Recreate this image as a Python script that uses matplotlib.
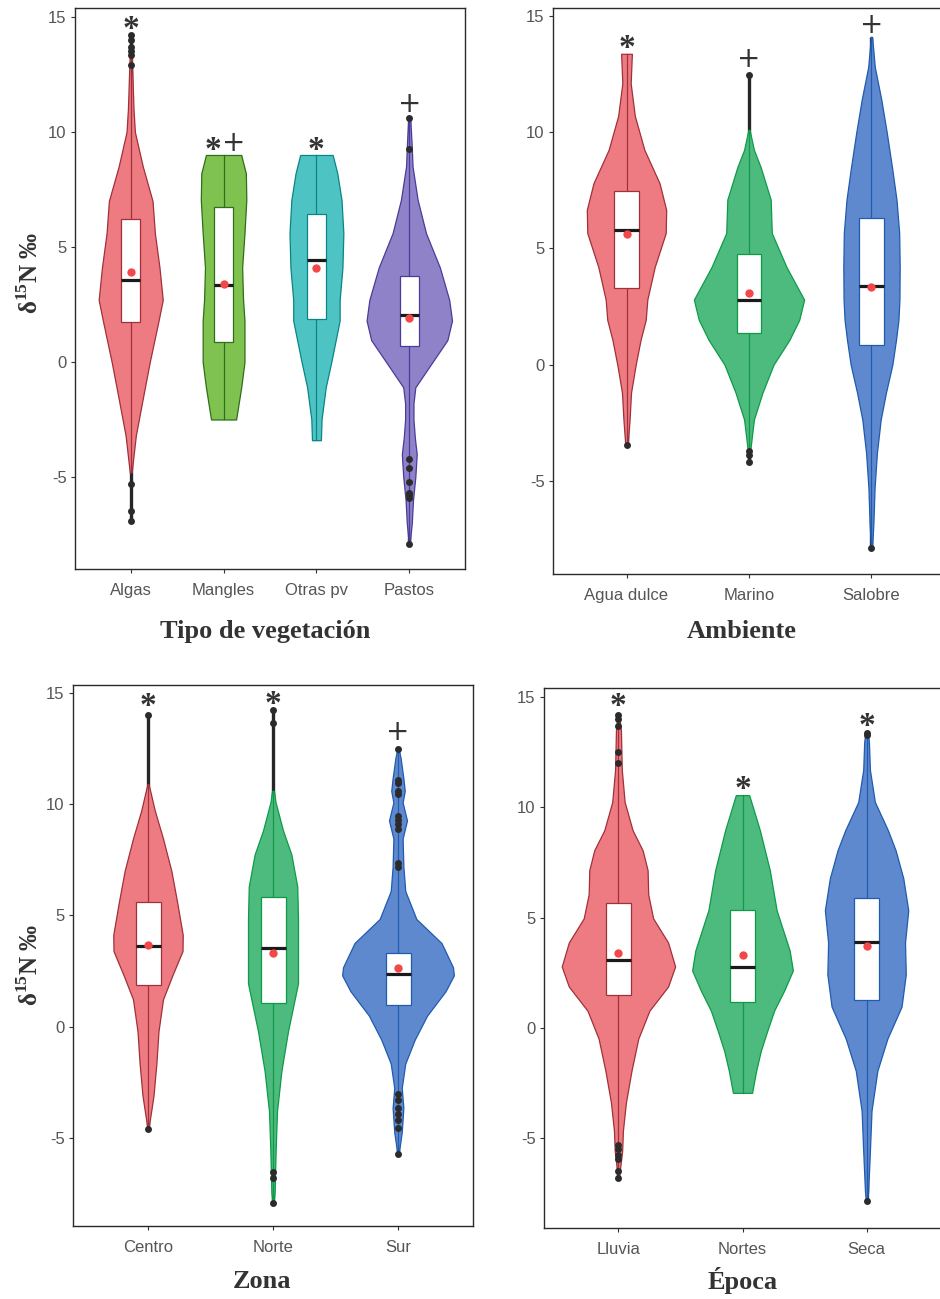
import numpy as np
import matplotlib
matplotlib.use('Agg')
import matplotlib.pyplot as plt

plt.rcParams['font.family'] = ['Liberation Sans', 'DejaVu Sans']
plt.rcParams['mathtext.fontset'] = 'custom'
plt.rcParams['mathtext.rm'] = 'Liberation Serif:bold'

# ---------------- Tipo de vegetación ----------------
veg_cats = ['Algas', 'Mangles', 'Otras pv', 'Pastos']
veg_prof_y = [
    [13.3, 12.5, 11.0, 10.0, 8.5, 7.0, 5.6, 4.1, 2.7, 1.8, 0.0, -1.8, -3.2, -4.8],
    [9.0, 8.2, 7.05, 5.6, 4.1, 2.7, 1.8, 0.95, 0.0, -1.1, -2.5],
    [9.0, 8.2, 7.05, 5.6, 4.1, 2.7, 1.8, 0.0, -1.1, -2.5, -3.4],
    [10.6, 9.5, 8.5, 7.05, 5.6, 4.1, 2.7, 1.8, 0.95, 0.0, -1.1, -1.8, -2.5, -3.3, -4.0, -5.0, -6.0, -7.0, -7.9],
]
veg_prof_w = [
    [0.01, 0.018, 0.03, 0.045, 0.13, 0.235, 0.26, 0.31, 0.345, 0.30, 0.205, 0.12, 0.055, 0.01],
    [0.19, 0.24, 0.245, 0.225, 0.20, 0.21, 0.225, 0.225, 0.225, 0.19, 0.135],
    [0.175, 0.225, 0.27, 0.29, 0.28, 0.25, 0.25, 0.16, 0.10, 0.055, 0.048],
    [0.01, 0.025, 0.035, 0.09, 0.18, 0.33, 0.43, 0.46, 0.41, 0.25, 0.065, 0.045, 0.045, 0.06, 0.08, 0.065, 0.04, 0.027, 0.005],
]
veg_q1 = [1.75, 0.87, 1.87, 0.7]
veg_med = [3.57, 3.35, 4.43, 2.05]
veg_q3 = [6.2, 6.75, 6.45, 3.74]
veg_mean = [3.9, 3.38, 4.1, 1.9]
veg_lo = [-6.9, -2.5, -3.4, -7.9]
veg_hi = [14.2, 9.0, 9.0, 10.6]
veg_out = [
    [14.2, 14.0, 13.7, 13.5, 13.35, 12.9, -5.3, -6.5, -6.9],
    [],
    [],
    [10.6, 9.25, -4.2, -4.6, -5.2, -5.7, -5.8, -5.9, -7.9],
]
veg_marks = ['*', '*+', '*', '+']
veg_mark_y = [14.75, 9.5, 9.5, 11.2]

# ---------------- Ambiente ----------------
amb_cats = ['Agua dulce', 'Marino', 'Salobre']
amb_prof_y = [
    [13.37, 12.1, 10.7, 9.24, 7.8, 6.66, 5.66, 4.2, 2.8, 1.93, 1.07, 0.0, -1.2, -2.36, -3.44],
    [10.1, 9.24, 8.5, 7.8, 7.1, 5.66, 4.2, 2.8, 1.93, 1.07, 0.0, -1.2, -2.36, -3.6],
    [14.1, 12.8, 11.4, 9.97, 8.5, 7.1, 5.66, 4.2, 2.8, 1.93, 1.07, 0.0, -1.2, -2.36, -3.8, -5.3, -6.75, -7.87],
]
amb_prof_w = [
    [0.044, 0.034, 0.068, 0.146, 0.27, 0.324, 0.32, 0.23, 0.17, 0.157, 0.115, 0.075, 0.037, 0.025, 0.01],
    [0.005, 0.04, 0.095, 0.136, 0.177, 0.186, 0.306, 0.45, 0.41, 0.33, 0.2, 0.11, 0.04, 0.012],
    [0.005, 0.027, 0.08, 0.125, 0.167, 0.204, 0.226, 0.23, 0.228, 0.22, 0.2, 0.17, 0.118, 0.075, 0.044, 0.025, 0.016, 0.005],
]
amb_q1 = [3.3, 1.38, 0.86]
amb_med = [5.8, 2.8, 3.4]
amb_q3 = [7.45, 4.77, 6.3]
amb_mean = [5.6, 3.1, 3.35]
amb_lo = [-3.45, -4.2, -7.9]
amb_hi = [13.37, 12.47, 14.1]
amb_out = [[-3.45], [12.47, -3.7, -3.9, -4.2], [-7.9]]
amb_marks = ['*', '+', '+']
amb_mark_y = [13.9, 13.15, 14.6]

# ---------------- Zona ----------------
zona_cats = ['Centro', 'Norte', 'Sur']
zona_prof_y = [
    [10.9, 9.72, 8.46, 7.0, 5.57, 4.12, 3.4, 2.31, 1.23, -0.2, -1.66, -3.1, -4.55],
    [10.6, 10.1, 8.82, 7.74, 6.3, 4.84, 3.4, 1.95, 0.87, -0.2, -2.0, -3.8, -5.6, -7.45, -7.9],
    [12.5, 12.07, 11.17, 10.6, 10.08, 9.27, 8.46, 7.2, 6.1, 4.84, 3.76, 2.67, 2.31, 1.59, 0.5, -0.58, -1.66, -2.75, -3.65, -4.74, -5.73],
]
zona_prof_w = [
    [0.005, 0.054, 0.12, 0.187, 0.234, 0.278, 0.276, 0.195, 0.12, 0.084, 0.067, 0.044, 0.005],
    [0.008, 0.02, 0.08, 0.147, 0.194, 0.2, 0.2, 0.2, 0.16, 0.12, 0.067, 0.032, 0.021, 0.013, 0.005],
    [0.005, 0.021, 0.043, 0.054, 0.037, 0.072, 0.037, 0.043, 0.058, 0.147, 0.348, 0.44, 0.447, 0.38, 0.233, 0.134, 0.058, 0.03, 0.043, 0.03, 0.005],
]
zona_q1 = [1.86, 1.05, 0.99]
zona_med = [3.61, 3.54, 2.37]
zona_q3 = [5.6, 5.82, 3.31]
zona_mean = [3.65, 3.29, 2.64]
zona_lo = [-4.6, -7.93, -5.73]
zona_hi = [14.0, 14.24, 12.5]
zona_out = [
    [14.0, -4.6],
    [14.24, 13.66, -6.54, -6.81, -7.93],
    [12.5, 11.1, 10.95, 10.6, 10.45, 9.45, 9.3, 9.1, 8.9, 7.35, 7.2,
     -3.02, -3.29, -3.65, -3.92, -4.19, -4.55, -5.73],
]
zona_marks = ['*', '*', '+']
zona_mark_y = [14.7, 14.78, 13.25]

# ---------------- Época ----------------
epoca_cats = ['Lluvia', 'Nortes', 'Seca']
epoca_prof_y = [
    [14.2, 13.5, 11.7, 10.24, 8.96, 8.05, 7.15, 6.05, 4.96, 3.87, 2.78, 1.87, 0.78, -0.49, -1.95, -3.4, -4.67, -5.58, -6.76],
    [10.55, 8.96, 7.15, 5.33, 3.51, 2.6, 1.69, 0.78, -0.13, -1.04, -1.95, -2.95],
    [13.36, 12.96, 11.7, 10.24, 8.96, 8.05, 6.78, 5.33, 3.87, 2.42, 0.96, -0.49, -1.95, -3.76, -5.58, -7.4, -7.85],
]
epoca_prof_w = [
    [0.005, 0.02, 0.027, 0.05, 0.114, 0.195, 0.235, 0.24, 0.28, 0.40, 0.457, 0.40, 0.25, 0.16, 0.105, 0.06, 0.036, 0.03, 0.005],
    [0.054, 0.14, 0.22, 0.275, 0.38, 0.406, 0.336, 0.255, 0.2, 0.148, 0.11, 0.077],
    [0.01, 0.019, 0.027, 0.067, 0.172, 0.234, 0.296, 0.336, 0.31, 0.316, 0.282, 0.168, 0.087, 0.04, 0.027, 0.013, 0.005],
]
epoca_q1 = [1.47, 1.15, 1.24]
epoca_med = [3.09, 2.75, 3.87]
epoca_q3 = [5.64, 5.33, 5.87]
epoca_mean = [3.38, 3.29, 3.69]
epoca_lo = [-6.82, -2.95, -7.85]
epoca_hi = [14.2, 10.55, 13.36]
epoca_out = [
    [14.2, 14.0, 13.7, 12.5, 12.0, -5.31, -5.49, -5.76, -5.95, -6.49, -6.82],
    [],
    [13.36, 13.3, -7.85],
]
epoca_marks = ['*', '*', '*']
epoca_mark_y = [14.87, 11.1, 13.96]

# colours
fill4 = ['#EF7B82', '#80C24F', '#4EC3C3', '#8F82C9']
edge4 = ['#A0303A', '#2F6E1A', '#0A8585', '#4B3B98']
fill3 = ['#EF7B82', '#4DBB7D', '#5E89CF']
edge3 = ['#A0303A', '#0E9A4A', '#1F5BAE']

W, H = 940, 1299
fig = plt.figure(figsize=(W / 100, H / 100), dpi=100)


def add_ax(l, t, r, b):
    return fig.add_axes([l / W, 1 - b / H, (r - l) / W, (b - t) / H])


def draw_mark(ax, c, y, s):
    n = len(s)
    for k, ch in enumerate(s):
        x = c + (k - (n - 1) / 2) * 0.22
        if ch == '*':
            ax.text(x, y - 0.3, ch, ha='center', va='center', fontsize=24,
                    fontweight='bold', family='Liberation Serif',
                    color='#333333', zorder=8)
        else:
            ax.text(x, y, ch, ha='center', va='center', fontsize=20,
                    family='DejaVu Sans', color='#333333', zorder=8)


def panel(ax, cats, py, pw, q1, med, q3, mean, lo, hi, outs, marks, mark_y,
          fills, edges, ylim):
    for i in range(len(cats)):
        c = i + 1
        y = np.array(py[i])
        w = np.array(pw[i])
        ax.plot([c, c], [lo[i], hi[i]], color='#262626', lw=2.4, zorder=1,
                solid_capstyle='butt')
        ax.fill_betweenx(y, c - w, c + w, facecolor=fills[i], edgecolor=edges[i],
                         lw=0.9, zorder=2)
        ax.plot([c, c], [y.min(), y.max()], color=edges[i], lw=0.9, zorder=3)
        ax.add_patch(plt.Rectangle((c - 0.1, q1[i]), 0.2, q3[i] - q1[i],
                                   facecolor='white', edgecolor=edges[i],
                                   lw=0.9, zorder=4))
        ax.plot([c - 0.1, c + 0.1], [med[i], med[i]], color='#1a1a1a', lw=2.3,
                zorder=5, solid_capstyle='butt')
        if outs[i]:
            ax.plot([c] * len(outs[i]), outs[i], 'o', color='#2b2b2b', ms=5,
                    zorder=6, mec='none')
        ax.plot([c], [mean[i]], 'o', color='#F2484A', ms=6, zorder=7, mec='none')
        draw_mark(ax, c, mark_y[i], marks[i])
    ax.set_xlim(0.4, len(cats) + 0.6)
    ax.set_ylim(*ylim)
    ax.set_xticks(range(1, len(cats) + 1))
    ax.set_xticklabels(cats)
    ax.set_yticks([-5, 0, 5, 10, 15])
    ax.set_yticklabels(['-5', '0', '5', '10', '15'])
    ax.tick_params(length=3, width=0.8, color='#333333', labelcolor='#555555',
                   labelsize=12, pad=3)
    ax.tick_params(axis='x', pad=7)
    for s in ax.spines.values():
        s.set_color('#2a2a2a')
        s.set_linewidth(1.0)


ax1 = add_ax(75, 8, 465, 569)
panel(ax1, veg_cats, veg_prof_y, veg_prof_w, veg_q1, veg_med, veg_q3, veg_mean,
      veg_lo, veg_hi, veg_out, veg_marks, veg_mark_y, fill4, edge4, (-9.0, 15.39))

ax2 = add_ax(553, 8, 945, 574)
panel(ax2, amb_cats, amb_prof_y, amb_prof_w, amb_q1, amb_med, amb_q3, amb_mean,
      amb_lo, amb_hi, amb_out, amb_marks, amb_mark_y, fill3, edge3, (-9.0, 15.34))

ax3 = add_ax(73, 685, 473, 1226)
panel(ax3, zona_cats, zona_prof_y, zona_prof_w, zona_q1, zona_med, zona_q3, zona_mean,
      zona_lo, zona_hi, zona_out, zona_marks, zona_mark_y, fill3, edge3, (-8.96, 15.36))

ax4 = add_ax(544, 688, 941, 1228)
panel(ax4, epoca_cats, epoca_prof_y, epoca_prof_w, epoca_q1, epoca_med, epoca_q3, epoca_mean,
      epoca_lo, epoca_hi, epoca_out, epoca_marks, epoca_mark_y, fill3, edge3, (-9.08, 15.41))

title_kw = dict(ha='center', va='center', fontsize=19, fontweight='bold',
                family='Liberation Serif', color='#333333')
fig.text(265 / W, 1 - 632 / H, 'Tipo de vegetación', **title_kw)
fig.text(742 / W, 1 - 632 / H, 'Ambiente', **title_kw)
fig.text(262 / W, 1 - 1282 / H, 'Zona', **title_kw)
fig.text(743 / W, 1 - 1280 / H, 'Época', **title_kw)

ylab = r'δ$^{\mathrm{15}}$N ‰'
ylab_kw = dict(ha='center', va='center', rotation=90, fontsize=18, fontweight='bold',
               family='Liberation Serif', color='#333333')
fig.text(30 / W, 1 - 273 / H, ylab, **ylab_kw)
fig.text(30 / W, 1 - 965 / H, ylab, **ylab_kw)

fig.savefig('out.png', dpi=100)
